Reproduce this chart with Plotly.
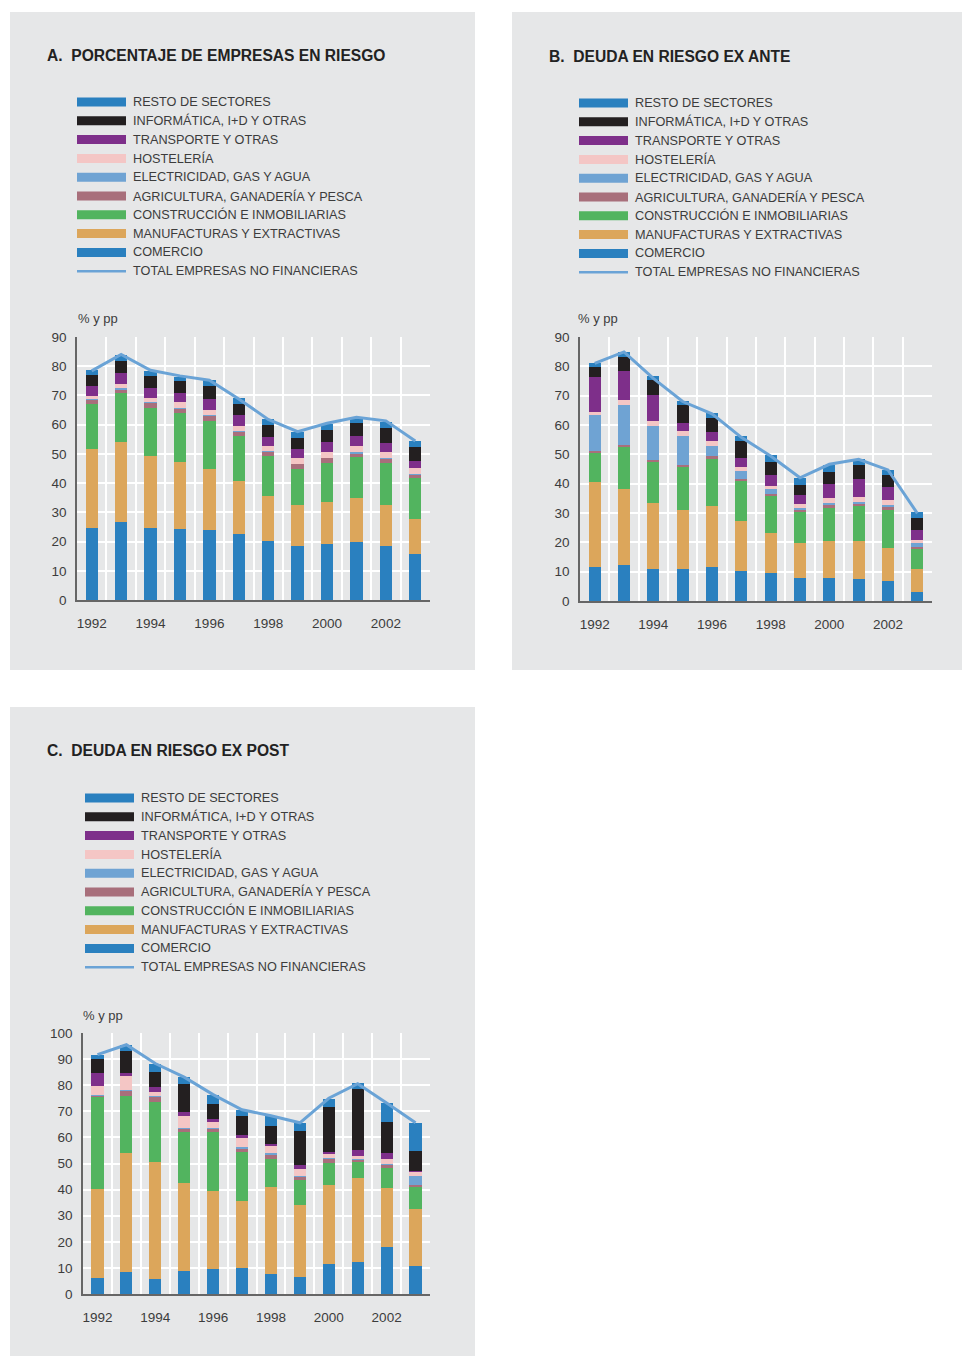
import plotly.graph_objects as go

W, H = 962, 1356
YEARS = list(range(1992, 2004))
TICK_YEARS = [1992, 1994, 1996, 1998, 2000, 2002]

SECTORS = ["RESTO DE SECTORES", "INFORMÁTICA, I+D Y OTRAS", "TRANSPORTE Y OTRAS",
           "HOSTELERÍA", "ELECTRICIDAD, GAS Y AGUA", "AGRICULTURA, GANADERÍA Y PESCA",
           "CONSTRUCCIÓN E INMOBILIARIAS", "MANUFACTURAS Y EXTRACTIVAS", "COMERCIO"]
TOTAL_NAME = "TOTAL EMPRESAS NO FINANCIERAS"
COLORS = ["#2a80bf", "#231f20", "#7e2f8a", "#f4c6c5", "#6fa3d3", "#a86f7b",
          "#52b45f", "#dca65b", "#2a80bf"]
LINE_COLOR = "#6aa3d6"

# Panel A: porcentaje de empresas en riesgo
comercio_a = [24.8, 26.8, 24.8, 24.4, 24.1, 22.7, 20.3, 18.6, 19.3, 19.7, 18.6, 15.6]
manuf_a = [26.9, 27.3, 24.5, 22.9, 20.8, 18.1, 15.4, 14.0, 14.3, 15.3, 14.0, 12.2]
constr_a = [15.3, 16.6, 16.5, 16.7, 16.4, 15.3, 13.6, 12.3, 13.3, 14.0, 14.3, 14.0]
agric_a = [1.6, 1.5, 1.7, 1.7, 1.8, 1.7, 1.4, 1.7, 1.7, 1.3, 1.4, 1.0]
elec_a = [0.2, 0.3, 0.3, 0.1, 0.2, 0.1, 0.3, 0.1, 0.1, 0.4, 0.3, 0.4]
hostel_a = [1.0, 1.4, 1.3, 1.9, 1.7, 1.6, 1.7, 1.9, 2.0, 2.0, 2.1, 2.0]
transp_a = [3.4, 3.7, 3.4, 3.1, 3.8, 3.8, 3.1, 3.1, 3.4, 3.4, 3.1, 2.4]
inform_a = [3.7, 4.1, 4.1, 4.1, 4.4, 3.7, 4.1, 3.8, 4.1, 4.5, 5.1, 4.8]
resto_a = [1.7, 2.1, 1.7, 1.5, 2.0, 2.0, 1.9, 2.0, 2.0, 1.9, 2.0, 2.0]
total_a = [78.4, 84.0, 78.6, 76.7, 75.2, 68.8, 61.8, 57.6, 60.5, 62.5, 61.3, 54.4]

# Panel B: deuda en riesgo ex ante
comercio_b = [11.6, 12.3, 10.9, 10.9, 11.6, 10.2, 9.5, 7.8, 7.8, 7.5, 6.8, 3.1]
manuf_b = [29.0, 25.9, 22.5, 20.1, 20.8, 17.1, 13.7, 12.0, 12.7, 13.0, 11.3, 7.8]
constr_b = [9.7, 14.3, 14.0, 14.7, 16.0, 13.6, 12.6, 10.5, 11.2, 11.9, 12.9, 6.8]
agric_b = [0.8, 0.7, 0.7, 0.7, 1.0, 0.7, 0.7, 0.7, 1.0, 0.7, 1.0, 0.7]
elec_b = [12.3, 13.6, 11.6, 9.9, 3.4, 2.7, 1.7, 0.7, 0.7, 0.7, 0.7, 1.4]
hostel_b = [1.0, 1.7, 1.7, 1.7, 1.7, 1.4, 1.0, 1.4, 1.7, 1.7, 1.7, 1.0]
transp_b = [12.0, 9.9, 8.8, 2.7, 3.1, 3.1, 3.8, 3.0, 4.8, 6.1, 4.5, 3.4]
inform_b = [3.4, 4.8, 5.1, 6.1, 4.8, 5.7, 4.4, 3.4, 4.1, 4.8, 4.1, 4.1]
resto_b = [1.3, 1.7, 1.4, 1.4, 1.7, 1.8, 2.4, 2.4, 2.4, 2.0, 1.7, 2.0]
total_b = [81.0, 84.9, 75.9, 68.0, 63.8, 55.8, 49.4, 42.0, 46.6, 48.3, 44.7, 29.9]

# Panel C: deuda en riesgo ex post
comercio_c = [6.3, 8.6, 5.9, 8.9, 9.7, 10.1, 7.8, 6.6, 11.6, 12.4, 18.1, 10.9]
manuf_c = [34.1, 45.6, 44.8, 33.8, 29.9, 25.7, 33.3, 27.6, 30.3, 32.2, 22.6, 21.8]
constr_c = [35.2, 21.8, 23.0, 19.5, 22.6, 18.7, 10.8, 9.6, 8.4, 6.1, 7.7, 8.4]
agric_c = [0.4, 1.9, 1.9, 1.1, 1.1, 1.2, 1.5, 1.2, 1.6, 0.8, 1.2, 0.8]
elec_c = [0.1, 0.4, 0.1, 0.4, 0.4, 0.7, 0.8, 0.3, 0.3, 0.1, 0.1, 3.4]
hostel_c = [3.7, 5.4, 1.8, 4.6, 2.3, 3.5, 2.6, 2.7, 1.6, 1.1, 2.2, 1.6]
transp_c = [5.0, 1.1, 1.9, 1.6, 1.2, 1.1, 0.8, 1.6, 0.7, 2.3, 2.3, 0.4]
inform_c = [5.4, 8.4, 5.8, 10.7, 5.7, 7.3, 6.9, 13.0, 17.3, 23.4, 11.8, 7.6]
resto_c = [1.5, 2.3, 3.1, 2.7, 3.5, 2.3, 3.8, 3.0, 3.0, 2.3, 7.3, 10.7]
total_c = [91.7, 95.5, 88.3, 83.1, 76.4, 70.6, 68.3, 65.6, 75.0, 80.6, 73.2, 65.6]

PANELS = [
    dict(title="A.  PORCENTAJE DE EMPRESAS EN RIESGO",
         series=[resto_a, inform_a, transp_a, hostel_a, elec_a, agric_a, constr_a, manuf_a, comercio_a],
         total=total_a, ymax=90,
         box=(10, 12, 475, 670), plot=(77, 337, 430, 600),
         title_xy=(47, 55), legend_x=77, legend_y=102, unit_xy=(78, 318)),
    dict(title="B.  DEUDA EN RIESGO EX ANTE",
         series=[resto_b, inform_b, transp_b, hostel_b, elec_b, agric_b, constr_b, manuf_b, comercio_b],
         total=total_b, ymax=90,
         box=(512, 12, 962, 670), plot=(580, 337, 932, 601),
         title_xy=(549, 56), legend_x=579, legend_y=103, unit_xy=(578, 318)),
    dict(title="C.  DEUDA EN RIESGO EX POST",
         series=[resto_c, inform_c, transp_c, hostel_c, elec_c, agric_c, constr_c, manuf_c, comercio_c],
         total=total_c, ymax=100,
         box=(10, 707, 475, 1356), plot=(83, 1033, 430, 1294),
         title_xy=(47, 751), legend_x=85, legend_y=798, unit_xy=(83, 1015)),
]

FONT = "Liberation Sans, Arial, sans-serif"
TEXT_COLOR = "#3c3c3c"
BG = "#e6e7e8"


def px(x):
    return x / W


def py(y):
    return 1 - y / H


fig = go.Figure()
shapes = []
annotations = []
ROW = 18.8

for i, p in enumerate(PANELS):
    n = "" if i == 0 else str(i + 1)
    xa, ya = "x" + n, "y" + n
    # stack from bottom (comercio) to top (resto)
    for name, color, vals in reversed(list(zip(SECTORS, COLORS, p["series"]))):
        fig.add_trace(go.Bar(x=YEARS, y=vals, name=name, marker=dict(color=color, line=dict(width=0)),
                             width=0.42, xaxis=xa, yaxis=ya, showlegend=False, hoverinfo="skip"))
    fig.add_trace(go.Scatter(x=YEARS, y=p["total"], name=TOTAL_NAME, mode="lines",
                             line=dict(color=LINE_COLOR, width=3), xaxis=xa, yaxis=ya,
                             showlegend=False, hoverinfo="skip"))

    x0, y0, x1, y1 = p["plot"]
    axis_common = dict(showline=True, linecolor="#666666", linewidth=1.5, automargin=False,
                       tickfont=dict(family=FONT, size=13.5, color=TEXT_COLOR), ticks="")
    fig.update_layout(**{
        "xaxis" + n: dict(domain=[px(x0), px(x1)], anchor=ya, range=[1991.5, 2003.5],
                          tickmode="array", tickvals=TICK_YEARS, ticktext=[str(t) for t in TICK_YEARS],
                          showgrid=False, zeroline=False, ticklabelstandoff=10,
                          minor=dict(tickmode="array", tickvals=[1991.5 + k for k in range(13)],
                                     showgrid=True, gridcolor="white", gridwidth=2, ticks=""),
                          **axis_common),
        "yaxis" + n: dict(domain=[py(y1), py(y0)], anchor=xa, range=[0, p["ymax"]],
                          tickmode="linear", tick0=0, dtick=10, showgrid=True,
                          gridcolor="white", gridwidth=2, zeroline=False, ticklabelstandoff=6,
                          **axis_common),
    })

    bx0, by0, bx1, by1 = p["box"]
    shapes.append(dict(type="rect", xref="paper", yref="paper", x0=px(bx0), x1=px(bx1),
                       y0=py(by1), y1=py(by0), fillcolor=BG, line=dict(width=0), layer="below"))

    tx, ty = p["title_xy"]
    annotations.append(dict(text=p["title"], x=px(tx - 2), y=py(ty), xref="paper", yref="paper",
                            xanchor="left", yanchor="middle", showarrow=False,
                            font=dict(family=FONT, size=15.6, color="#222222", weight="bold")))
    ux, uy = p["unit_xy"]
    annotations.append(dict(text="% y pp", x=px(ux - 2), y=py(uy), xref="paper", yref="paper",
                            xanchor="left", yanchor="middle", showarrow=False,
                            font=dict(family=FONT, size=13, color=TEXT_COLOR)))

    lx, ly = p["legend_x"], p["legend_y"]
    labels = SECTORS + [TOTAL_NAME]
    for k, lab in enumerate(labels):
        cy = ly + k * ROW
        if k < len(SECTORS):
            shapes.append(dict(type="rect", xref="paper", yref="paper", x0=px(lx), x1=px(lx + 49),
                               y0=py(cy + 4.5), y1=py(cy - 4.5), fillcolor=COLORS[k], line=dict(width=0)))
        else:
            shapes.append(dict(type="line", xref="paper", yref="paper", x0=px(lx), x1=px(lx + 49),
                               y0=py(cy), y1=py(cy), line=dict(color=LINE_COLOR, width=2.5)))
        annotations.append(dict(text=lab, x=px(lx + 54), y=py(cy), xref="paper", yref="paper",
                                xanchor="left", yanchor="middle", showarrow=False,
                                font=dict(family=FONT, size=12.7, color=TEXT_COLOR)))

fig.update_layout(width=W, height=H, margin=dict(l=0, r=0, t=0, b=0, pad=0, autoexpand=False),
                  paper_bgcolor="white", plot_bgcolor=BG, barmode="stack",
                  shapes=shapes, annotations=annotations, showlegend=False,
                  font=dict(family=FONT, color=TEXT_COLOR))

fig.write_html("out.html", config={"displayModeBar": False, "responsive": False},
               post_script="document.body.style.margin='0';document.body.style.overflow='hidden';")
